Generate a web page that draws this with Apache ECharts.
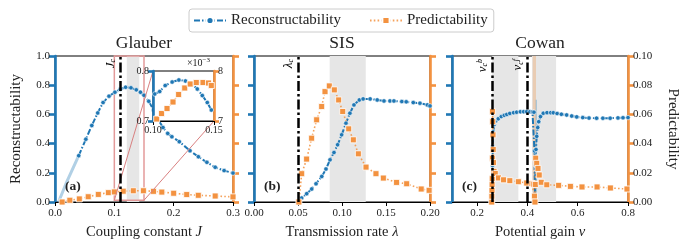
<!DOCTYPE html>
<html><head><meta charset="utf-8">
<script src="https://cdn.jsdelivr.net/npm/echarts@6/dist/echarts.min.js"></script>
<style>html,body{margin:0;padding:0;background:#fff}#c{width:690px;height:250px}</style>
</head><body><div id="c"></div>
<script>
// ---------------- DATA ----------------
const glauberRecJ = [0.040,0.052,0.062,0.072,0.081,0.091,0.101,0.110,0.119,0.128,0.137,0.144,0.150,0.158,0.166,0.174,0.182,0.190,0.197,0.2095,0.2275,0.2416,0.256,0.270,0.285,0.300];
const glauberRec  = [0.317,0.430,0.524,0.610,0.681,0.725,0.752,0.772,0.786,0.782,0.768,0.752,0.731,0.690,0.630,0.565,0.510,0.470,0.447,0.413,0.351,0.310,0.272,0.238,0.215,0.198];
const glauberRecStartJ = [0.006,0.020,0.040];
const glauberRecStart  = [0.0,0.14,0.317];
const glauberPredJ = [0.012,0.025,0.041,0.056,0.073,0.090,0.100,0.115,0.132,0.149,0.166,0.180,0.200,0.222,0.2415,0.270,0.300];
const glauberPred  = [0.0,0.0012,0.0021,0.0036,0.0052,0.0064,0.0069,0.0074,0.0077,0.0077,0.0073,0.0068,0.0060,0.0051,0.0046,0.0041,0.0035];
const insetRecJ = [0.1014,0.1055,0.1100,0.1157,0.1212,0.1266,0.1320,0.1363,0.1404,0.1445,0.1478];
const insetRec  = [0.754,0.759,0.771,0.778,0.782,0.780,0.774,0.764,0.751,0.737,0.722];
const insetPredJ = [0.1030,0.1070,0.1115,0.1164,0.1210,0.1260,0.1305,0.1355,0.1410,0.1455,0.1478];
const insetPred  = [0.00704,0.00715,0.00725,0.00738,0.00753,0.00766,0.00774,0.00777,0.00777,0.00776,0.00771];
const sisRecL = [0.051,0.0542,0.0599,0.0656,0.0705,0.077,0.0818,0.0864,0.0909,0.095,0.0996,0.1045,0.109,0.1136,0.1197,0.124,0.132,0.140,0.1477,0.1545,0.159,0.168,0.173,0.181,0.1886,0.197,0.200];
const sisRec  = [0.0,0.027,0.057,0.089,0.125,0.175,0.226,0.289,0.339,0.392,0.460,0.540,0.608,0.665,0.699,0.706,0.706,0.699,0.692,0.692,0.692,0.688,0.686,0.681,0.677,0.665,0.658];
const sisPredL = [0.051,0.0542,0.0598,0.0655,0.0712,0.0769,0.0807,0.0856,0.0913,0.0962,0.1008,0.1076,0.1129,0.1186,0.1273,0.1386,0.147,0.162,0.1735,0.190,0.199];
const sisPred  = [0.0,0.0194,0.0294,0.0437,0.0563,0.0654,0.0756,0.0795,0.0768,0.0699,0.0620,0.0501,0.0426,0.0330,0.0239,0.0194,0.0164,0.0134,0.0125,0.0089,0.0080];
const cowanRecV = [0.26,0.2605,0.261,0.262,0.264,0.268,0.274,0.284,0.296,0.308,0.318,0.33,0.345,0.357,0.372,0.385,0.397,0.41,0.42,0.426,0.428,0.430,0.432,0.434,0.437,0.441,0.445,0.452,0.463,0.478,0.493,0.503,0.518,0.535,0.556,0.576,0.596,0.62,0.645,0.675,0.70,0.729,0.76,0.78,0.8];
const cowanRec  = [0.0,0.12,0.25,0.38,0.48,0.53,0.555,0.57,0.585,0.594,0.6,0.607,0.612,0.615,0.618,0.619,0.619,0.618,0.617,0.615,0.35,0.02,0.25,0.36,0.45,0.51,0.55,0.585,0.608,0.612,0.612,0.611,0.606,0.601,0.596,0.589,0.583,0.578,0.575,0.574,0.574,0.574,0.576,0.577,0.578];
const cowanPredV = [0.258,0.2585,0.259,0.2595,0.26,0.2605,0.261,0.262,0.263,0.264,0.265,0.267,0.272,0.285,0.305,0.33,0.364,0.397,0.418,0.425,0.428,0.430,0.4315,0.433,0.437,0.442,0.447,0.455,0.477,0.524,0.571,0.617,0.677,0.73,0.796];
const cowanPred  = [0.0,0.004,0.008,0.012,0.016,0.03,0.062,0.055,0.046,0.036,0.027,0.021,0.0195,0.0165,0.0152,0.0146,0.0139,0.013,0.0127,0.0122,0.004,0.0,0.012,0.03,0.0265,0.023,0.0185,0.0135,0.0118,0.0114,0.0107,0.0103,0.0103,0.0096,0.0089];
const Jc = 0.109, lambdaC = 0.051, nuCb = 0.26, nuCf = 0.40;
const glauberBand = [0.121,0.142];
const sisBand = [0.086,0.127];
const cowanBands = [[0.26,0.364],[0.418,0.514]];
const cowanPredBand = [0.421,0.434];
const cowanRecSpike = [0.433,0.437,0.70];
const zoomBoxJ = [0.10,0.15], zoomBoxY = [0.012,1.0];
const cowanTicks = [0.2,0.4,0.6,0.8];
const insetXTicks = [0.10,0.15], insetRecTicks = [0.7,0.8], insetPredTicks = [0.007,0.008];
const panelTitles = ['Glauber','SIS','Cowan'];
const panelTags = ['(a)','(b)','(c)'];

// ---------------- STYLE ----------------
const F = "'Liberation Serif','DejaVu Serif',serif";
const BLUE = '#1f77b4', ORANGE = '#f39240', GRAY = '#e6e6e6', SALMON = '#e39a9a';
const zip = (a,b) => a.map((v,i)=>[v,b[i]]);
const G = [{left:55,w:178},{left:254,w:176},{left:452,w:176}];
const TOP = 56, H = 146;
const lbl = () => ({color:'#222', fontFamily:F, fontSize:11});
const NAMEFS = 14.5;

const grids = G.map(g => ({left:g.left, top:TOP, width:g.w, height:H, show:true, borderColor:'#000', borderWidth:1}));
grids.push({left:153, top:71, width:61, height:50, show:true, borderColor:'#000', borderWidth:1, backgroundColor:'#fff', z:10});

function xAx(gi, min, max, opts, name) {
  return Object.assign({
    type:'value', gridIndex:gi, min:min, max:max, position:'bottom',
    axisLine:{show:true, onZero:false, lineStyle:{color:'#000', width:1}},
    axisTick:{show:true, length:4, lineStyle:{color:'#000', width:1}},
    splitLine:{show:false},
    name:name, nameLocation:'middle', nameGap:23,
    nameTextStyle:{color:'#222', fontFamily:F, fontSize:NAMEFS, rich:{i:{fontStyle:'italic', fontFamily:F, fontSize:NAMEFS, color:'#222'}}}
  }, opts);
}
const xAxes = [
  xAx(0, 0, 0.3, {interval:0.1, axisLabel:Object.assign(lbl(), {formatter:v=>v.toFixed(1), margin:6})}, 'Coupling constant {i|J}'),
  xAx(1, 0, 0.2, {interval:0.05, axisLabel:Object.assign(lbl(), {formatter:v=>v.toFixed(2), margin:6})}, 'Transmission rate {i|λ}'),
  xAx(2, 0.1, 0.8, {axisTick:{show:true, length:4, customValues:cowanTicks, lineStyle:{color:'#000',width:1}},
     axisLabel:Object.assign(lbl(), {customValues:cowanTicks, formatter:v=>v.toFixed(1), margin:6})}, 'Potential gain {i|ν}'),
  xAx(3, zoomBoxJ[0], zoomBoxJ[1], {z:11, axisTick:{show:true, length:4, customValues:insetXTicks, lineStyle:{color:'#000',width:1}},
     axisLabel:Object.assign(lbl(), {fontSize:10, customValues:insetXTicks, formatter:v=>v.toFixed(2), margin:4})}, '')
];
function yAx(gi, side, min, max, extra) {
  const c = side==='left' ? BLUE : ORANGE;
  return Object.assign({
    type:'value', gridIndex:gi, position:side, min:min, max:max,
    axisLine:{show:true, onZero:false, lineStyle:{color:c, width:2.6}},
    axisTick:{show:true, length:6, lineStyle:{color:c, width:2.6}},
    splitLine:{show:false},
    axisLabel:{show:false}
  }, extra);
}
const yAxes = [
  yAx(0,'left',0,1,{interval:0.2, axisLabel:Object.assign(lbl(), {margin:5, formatter:v=>v.toFixed(1)}),
    name:'Reconstructability', nameLocation:'middle', nameGap:31, nameRotate:90, nameTextStyle:{color:'#222', fontFamily:F, fontSize:15}}),
  yAx(0,'right',0,0.1,{interval:0.02}),
  yAx(1,'left',0,1,{interval:0.2}),
  yAx(1,'right',0,0.1,{interval:0.02}),
  yAx(2,'left',0,1,{interval:0.2}),
  yAx(2,'right',0,0.1,{interval:0.02, axisLabel:Object.assign(lbl(), {margin:5, formatter:v=>v.toFixed(2)}),
    name:'Predictability', nameLocation:'middle', nameGap:37, nameRotate:-90, nameTextStyle:{color:'#222', fontFamily:F, fontSize:15}}),
  yAx(3,'left',insetRecTicks[0],insetRecTicks[1],{z:11,
    axisTick:{show:true, length:5, customValues:insetRecTicks, lineStyle:{color:BLUE,width:2.6}},
    axisLabel:Object.assign(lbl(), {fontSize:10, margin:4, customValues:insetRecTicks, formatter:v=>v.toFixed(1)})}),
  yAx(3,'right',insetPredTicks[0],insetPredTicks[1],{z:11,
    axisTick:{show:true, length:5, customValues:insetPredTicks, lineStyle:{color:ORANGE,width:2.6}},
    axisLabel:Object.assign(lbl(), {fontSize:10, margin:4, customValues:insetPredTicks, formatter:v=>String(Math.round(v*1000))}),
    name:'×10{s|−3}', nameLocation:'end', nameGap:2,
    nameTextStyle:{color:'#222', fontFamily:F, fontSize:10, align:'right', verticalAlign:'bottom', padding:[0,4,0,0],
      rich:{s:{fontSize:7, fontFamily:F, color:'#222', verticalAlign:'top', padding:[0,0,5,0]}}}})
];
function rec(name, xi, yi, data, z) {
  return {type:'line', name:name, xAxisIndex:xi, yAxisIndex:yi, data:data, z:z||3,
    symbol:'circle', symbolSize:4.5, showSymbol:true,
    lineStyle:{color:BLUE, width:2, type:[6,2,1.5,2]},
    itemStyle:{color:BLUE, borderColor:'#fff', borderWidth:0.6}};
}
function pred(name, xi, yi, data, z) {
  return {type:'line', name:name, xAxisIndex:xi, yAxisIndex:yi, data:data, z:z||3,
    symbol:'rect', symbolSize:6, showSymbol:true,
    lineStyle:{color:ORANGE, width:1.6, type:[1.6,2.2], opacity:0.85},
    itemStyle:{color:ORANGE, borderColor:'#fff', borderWidth:0.8}};
}
function critLine(x, text) {
  const item = {xAxis:x, lineStyle:{color:'#000', width:2.5, type:[10,3,2.5,3]}};
  item.label = text ? {show:true, position:'insideEndTop', distance:3, formatter:text, color:'#000', fontFamily:F, fontSize:12,
      rich:{i:{fontStyle:'italic', fontFamily:F, fontSize:13, color:'#000'},
            s:{fontStyle:'italic', fontFamily:F, fontSize:8, color:'#000', verticalAlign:'bottom'},
            p:{fontStyle:'italic', fontFamily:F, fontSize:8, color:'#000', verticalAlign:'top'}}} : {show:false};
  return item;
}
function decor(xi, yi, areas, lines, z) {
  return {type:'line', name:'decor'+xi+'_'+yi, xAxisIndex:xi, yAxisIndex:yi, data:[], z:z||1, silent:true,
    markArea:{silent:true, data:areas},
    markLine:{silent:true, symbol:['none','none'], data:lines}};
}
const band = (a,b,color) => [{xAxis:a, itemStyle:{color:color||GRAY}}, {xAxis:b}];
const series = [
  decor(0,0,[band(glauberBand[0],glauberBand[1]),
    [{xAxis:zoomBoxJ[0], yAxis:zoomBoxY[0], itemStyle:{color:'rgba(0,0,0,0)', borderColor:SALMON, borderWidth:1.5}},{xAxis:zoomBoxJ[1], yAxis:zoomBoxY[1]}]],
    [critLine(Jc,'{i|J}{s|c}')]),
  {type:'line', name:'recStart', xAxisIndex:0, yAxisIndex:0, data:zip(glauberRecStartJ, glauberRecStart), z:2, symbol:'none',
    lineStyle:{color:'rgba(31,119,180,0.35)', width:3}},
  rec('Reconstructability',0,0,zip(glauberRecJ,glauberRec)),
  pred('Predictability',0,1,zip(glauberPredJ,glauberPred)),
  decor(1,2,[band(sisBand[0],sisBand[1])],[critLine(lambdaC,'{i|λ}{s|c}')]),
  rec('Reconstructability',1,2,zip(sisRecL,sisRec)),
  pred('Predictability',1,3,zip(sisPredL,sisPred)),
  decor(2,4,[band(cowanBands[0][0],cowanBands[0][1]), band(cowanBands[1][0],cowanBands[1][1]),
    band(cowanPredBand[0],cowanPredBand[1],'rgba(243,146,64,0.3)'),
    [{xAxis:cowanRecSpike[0], yAxis:0, itemStyle:{color:'rgba(31,119,180,0.4)'}},{xAxis:cowanRecSpike[1], yAxis:cowanRecSpike[2]}]],
    [critLine(nuCb,'{i|ν}{s|c}{p|b}'), critLine(nuCf,'{i|ν}{s|c}{p|f}')]),
  rec('Reconstructability',2,4,zip(cowanRecV,cowanRec)),
  pred('Predictability',2,5,zip(cowanPredV,cowanPred)),
  decor(3,6,[band(glauberBand[0],glauberBand[1])],[critLine(Jc,'')],11),
  rec('Reconstructability',3,6,zip(insetRecJ,insetRec),12),
  pred('Predictability',3,7,zip(insetPredJ,insetPred),12)
];
const graphics = [];
G.forEach((g,i)=>{
  graphics.push({type:'text', x:g.left+g.w/2, y:43, style:{text:panelTitles[i], font:'17.5px '+F, fill:'#222', align:'center', verticalAlign:'middle'}});
  graphics.push({type:'text', x:g.left+10, y:187, z:20, style:{text:panelTags[i], font:'bold 13.5px '+F, fill:'#222', align:'left', verticalAlign:'middle'}});
});

const chart = echarts.init(document.getElementById('c'));
chart.setOption({animation:false, backgroundColor:'#fff', grid:grids, xAxis:xAxes, yAxis:yAxes, series:series, graphic:graphics,
  legend:{data:['Reconstructability','Predictability'], left:189, top:9, itemWidth:32, itemHeight:9, itemGap:28,
    borderColor:'#ccc', borderWidth:1, borderRadius:3, padding:[4,6,4,4],
    textStyle:{fontFamily:F, fontSize:15, color:'#222'}}});

// zoom-indicator connectors, anchored via the library's coordinate conversion
const rBL = chart.convertToPixel({xAxisIndex:0, yAxisIndex:0}, [zoomBoxJ[0], zoomBoxY[0]]);
const rBR = chart.convertToPixel({xAxisIndex:0, yAxisIndex:0}, [zoomBoxJ[1], zoomBoxY[0]]);
const iTL = chart.convertToPixel({xAxisIndex:3, yAxisIndex:6}, [zoomBoxJ[0], insetRecTicks[1]]);
const iBR = chart.convertToPixel({xAxisIndex:3, yAxisIndex:6}, [zoomBoxJ[1], insetRecTicks[0]]);
const g2 = graphics.slice();
g2.push({type:'line', z:4, shape:{x1:rBL[0], y1:rBL[1], x2:iTL[0], y2:iTL[1]}, style:{stroke:'#d98080', lineWidth:1}});
g2.push({type:'line', z:4, shape:{x1:rBR[0], y1:rBR[1], x2:iBR[0], y2:iBR[1]}, style:{stroke:'#d98080', lineWidth:1}});
chart.setOption({graphic:g2});
</script></body></html>
